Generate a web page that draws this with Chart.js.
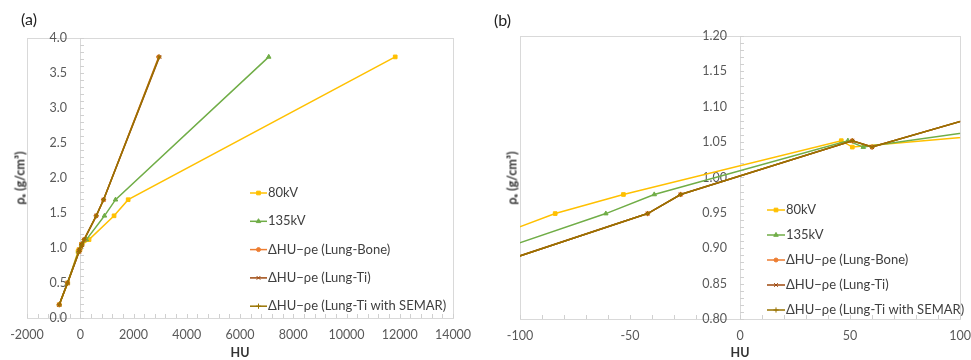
<!DOCTYPE html>
<html>
<head>
<meta charset="utf-8">
<script src="https://cdn.jsdelivr.net/npm/chart.js@4.4.0/dist/chart.umd.min.js"></script>
<style>
  html, body { margin: 0; padding: 0; background: #fff; }
  body { width: 971px; height: 360px; position: relative; overflow: hidden; font-family: Lato, 'DejaVu Sans', sans-serif; }
  .panel { position: absolute; top: 0; width: 485px; height: 360px; }
  #panelA { left: 0; }
  #panelB { left: 485px; width: 486px; }
  .tag { position: absolute; font-size: 16px; color: #222; line-height: 16px; }
  .ytitle { position: absolute; font-weight: bold; font-size: 12.5px; color: #333; white-space: nowrap;
            transform: translate(-50%, -50%) rotate(-90deg); }
</style>
</head>
<body>
<div class="panel" id="panelA"><canvas id="chartA" width="485" height="360"></canvas></div>
<div class="panel" id="panelB"><canvas id="chartB" width="486" height="360"></canvas></div>
<div class="tag" style="left:21px; top:11px;">(a)</div>
<div class="tag" style="left:494px; top:12px;">(b)</div>
<div class="ytitle" style="left:20px; top:178px;">ρₑ (g/cm³)</div>
<div class="ytitle" style="left:512px; top:178px;">ρₑ (g/cm³)</div>
<script>
// electron density of the phantom inserts (same for all series)
const rhoE = [0.19, 0.50, 0.949, 0.976, 1.052, 1.043, 1.12, 1.46, 1.69, 3.73];

// HU values per calibration
const hu80kV = [-790, -470, -84, -53, 46, 51, 330, 1270, 1800, 11830];
const hu135kV = [-790, -485, -61, -39, 49, 56, 230, 910, 1325, 7080];
const huLungBone = [-790, -478, -42, -27, 51, 60, 145, 600, 875, 2945];
const huLungTi = [-790, -478, -42, -27, 51, 60, 145, 600, 875, 2975];
const huLungTiSemar = [-790, -478, -42, -27, 51, 60, 145, 600, 875, 2960];

const seriesLabels = ['80kV', '135kV', 'ΔHU−ρe (Lung-Bone)', 'ΔHU−ρe (Lung-Ti)', 'ΔHU−ρe (Lung-Ti with SEMAR)'];
const seriesHU = [hu80kV, hu135kV, huLungBone, huLungTi, huLungTiSemar];
const seriesColors = ['#FFC000', '#70AD47', '#ED7D31', '#9E480E', '#997300'];
const seriesPoints = ['rect', 'triangle', 'circle', 'crossRot', 'cross'];

const FONT = "Lato, 'DejaVu Sans', sans-serif";
Chart.defaults.font.family = FONT;
Chart.defaults.color = '#595959';

// light grey box around the plot area
const plotBorder = {
    id: 'plotBorder',
    beforeDatasetsDraw: function (chart) {
        const a = chart.chartArea;
        const ctx = chart.ctx;
        ctx.save();
        ctx.strokeStyle = '#d9d9d9';
        ctx.lineWidth = 1;
        ctx.strokeRect(Math.round(a.left) + 0.5, Math.round(a.top) + 0.5, Math.round(a.right - a.left), Math.round(a.bottom - a.top));
        ctx.restore();
    }
};

// Excel-like minor ticks pointing into the plot, y labels next to the x=0 axis
const axisExtras = {
    id: 'axisExtras',
    beforeDatasetsDraw: function (chart, args, opts) {
        const ctx = chart.ctx;
        const a = chart.chartArea;
        const x = chart.scales.x, y = chart.scales.y;
        const x0 = Math.round(x.getPixelForValue(0));
        ctx.save();
        ctx.strokeStyle = '#d0d0d0';
        ctx.lineWidth = 1;
        ctx.beginPath();
        for (let v = x.min; v <= x.max + 1e-9; v += opts.xStep) {
            const px = Math.round(x.getPixelForValue(v)) + 0.5;
            ctx.moveTo(px, a.bottom);
            ctx.lineTo(px, a.bottom - 4);
        }
        for (let v = y.min; v <= y.max + 1e-9; v += opts.yStep) {
            const py = Math.round(y.getPixelForValue(v)) + 0.5;
            ctx.moveTo(x0, py);
            ctx.lineTo(x0 + 4, py);
        }
        ctx.stroke();

        ctx.fillStyle = '#595959';
        ctx.font = '12.5px ' + FONT;
        ctx.textAlign = 'right';
        ctx.textBaseline = 'middle';
        y.ticks.forEach(function (t) {
            ctx.fillText(t.label, x0 - opts.gap, y.getPixelForValue(t.value));
        });
        ctx.restore();
    }
};

// legend drawn inside the plot area
const insideLegend = {
    id: 'insideLegend',
    afterDatasetsDraw: function (chart, args, opts) {
        const ctx = chart.ctx;
        ctx.save();
        chart.data.datasets.forEach(function (ds, i) {
            const y = opts.y + i * opts.gap;
            ctx.strokeStyle = ds.borderColor;
            ctx.fillStyle = ds.backgroundColor;
            ctx.lineWidth = ds.borderWidth;
            ctx.beginPath();
            ctx.moveTo(opts.x, y);
            ctx.lineTo(opts.x + opts.len, y);
            ctx.stroke();
            ctx.lineWidth = 1;
            Chart.helpers.drawPoint(ctx, { pointStyle: ds.pointStyle, radius: ds.pointRadius, rotation: 0, borderWidth: 1 }, opts.x + opts.len / 2, y);
            ctx.fillStyle = '#404040';
            ctx.font = '13px ' + FONT;
            ctx.textBaseline = 'middle';
            ctx.textAlign = 'left';
            ctx.fillText(ds.label, opts.x + opts.len + 1, y);
        });
        ctx.restore();
    }
};

function buildDatasets() {
    return seriesLabels.map(function (label, i) {
        return {
            label: label,
            data: seriesHU[i].map(function (hu, k) { return { x: hu, y: rhoE[k] }; }),
            showLine: true,
            borderColor: seriesColors[i],
            backgroundColor: seriesColors[i],
            borderWidth: 1.5,
            pointStyle: seriesPoints[i],
            pointRadius: seriesPoints[i] === 'circle' ? 2 : 2.6,
            pointBorderWidth: 1,
            order: seriesLabels.length - i
        };
    });
}

function makeChart(canvasId, cfg) {
    const ctx = document.getElementById(canvasId);
    return new Chart(ctx, {
        type: 'scatter',
        data: { datasets: buildDatasets() },
        plugins: [plotBorder, axisExtras, insideLegend],
        options: {
            responsive: false,
            animation: false,
            layout: { padding: cfg.padding },
            plugins: {
                legend: { display: false },
                tooltip: { enabled: false },
                axisExtras: { xStep: cfg.xMinor, yStep: cfg.yMinor, gap: 13 },
                insideLegend: cfg.legend
            },
            scales: {
                x: {
                    type: 'linear',
                    min: cfg.xMin, max: cfg.xMax,
                    // transparent tick marks keep labels off the axis without widening the side padding
                    grid: { display: true, drawOnChartArea: false, drawTicks: true, tickLength: 9, tickColor: 'rgba(0,0,0,0)' },
                    border: { display: true, color: '#d9d9d9' },
                    ticks: {
                        stepSize: cfg.xStep,
                        padding: 0,
                        font: { size: 12.5 },
                        maxRotation: 0,
                        callback: function (v) { return String(v); }
                    },
                    title: { display: true, text: 'HU', font: { size: 12.5, weight: 'bold' }, color: '#333', padding: { top: cfg.titleTop, bottom: 0 } }
                },
                y: {
                    type: 'linear',
                    position: { x: 0 },
                    min: cfg.yMin, max: cfg.yMax,
                    grid: { display: false, drawTicks: false },
                    border: { display: true, color: '#d9d9d9' },
                    ticks: {
                        display: false,
                        stepSize: cfg.yStep,
                        callback: function (v) { return v.toFixed(cfg.yDecimals); }
                    }
                }
            }
        }
    });
}

makeChart('chartA', {
    padding: { left: 27, right: 32, top: 38, bottom: 0 },
    titleTop: 3,
    xMin: -2000, xMax: 14000, xStep: 2000, xMinor: 400,
    yMin: 0, yMax: 4, yStep: 0.5, yMinor: 0.1, yDecimals: 1,
    legend: { x: 250, len: 17, y: 193, gap: 28.3 }
});

makeChart('chartB', {
    padding: { left: 35, right: 10, top: 36, bottom: 0 },
    titleTop: 2,
    xMin: -100, xMax: 100, xStep: 50, xMinor: 10,
    yMin: 0.8, yMax: 1.2, yStep: 0.05, yMinor: 0.01, yDecimals: 2,
    legend: { x: 282, len: 18, y: 210, gap: 25 }
});
</script>
</body>
</html>
